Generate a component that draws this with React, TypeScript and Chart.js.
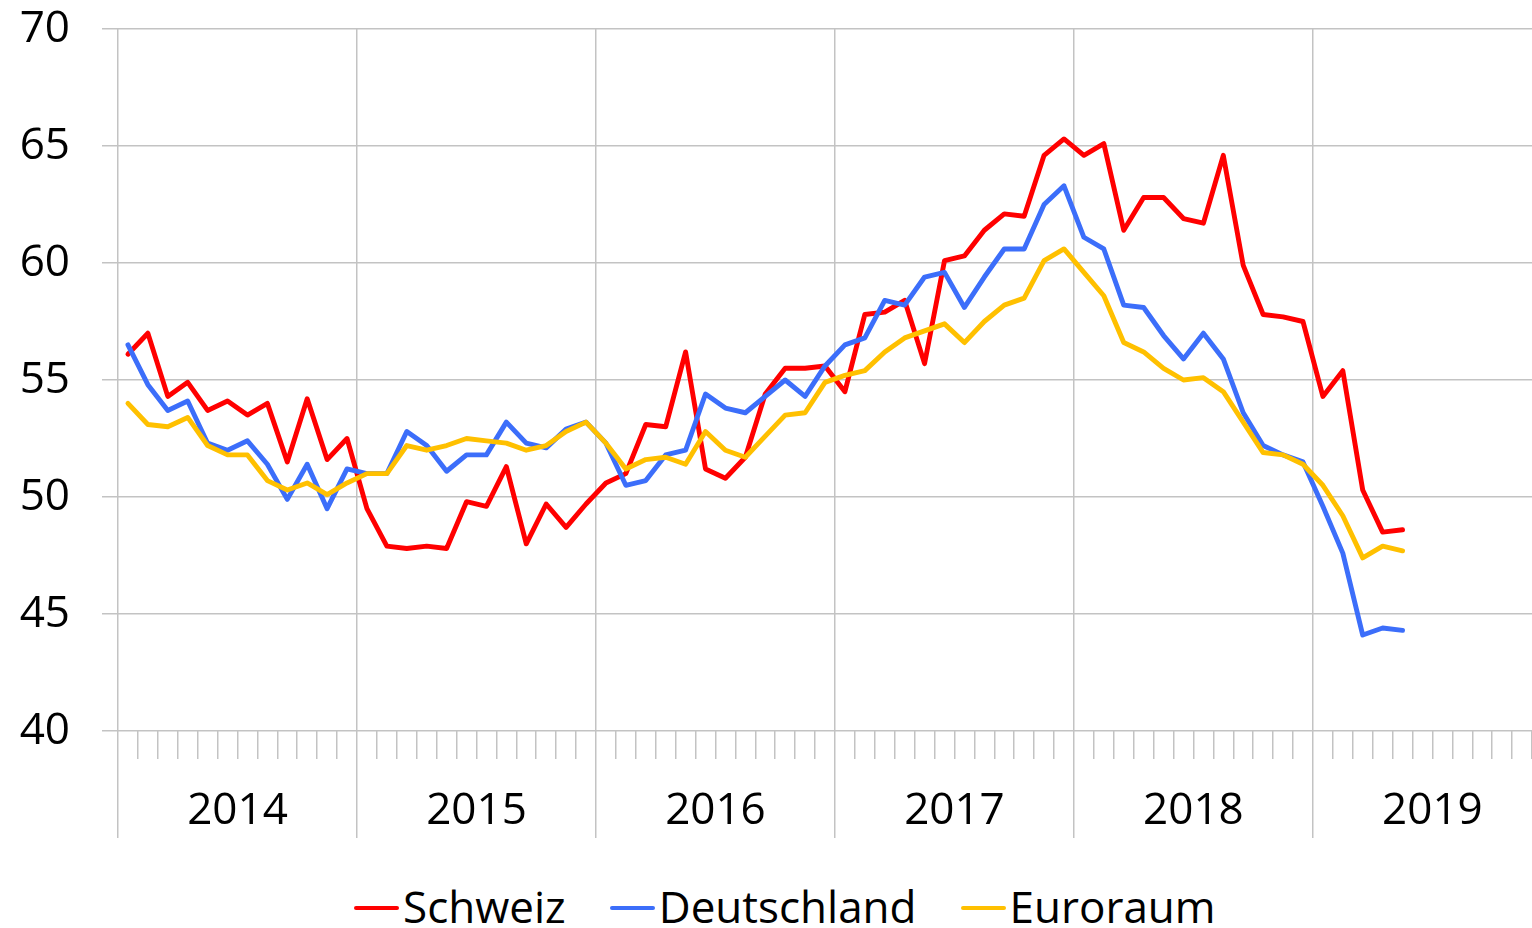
import React, { useEffect, useRef } from 'react';
import { Chart, registerables } from 'chart.js';

Chart.register(...registerables);

const FONT = "'Open Sans', sans-serif";
const GRID = '#c3c3c3';

const years = ['2014', '2015', '2016', '2017', '2018', '2019'];
const monthNames = ['01', '02', '03', '04', '05', '06', '07', '08', '09', '10', '11', '12'];
// axis runs Jan 2014 .. Nov 2019 (right edge of the picture)
const months: string[] = years.flatMap((y) => monthNames.map((m) => `${y}-${m}`)).slice(0, 71);

const seriesNames = ['Schweiz', 'Deutschland', 'Euroraum'];
const seriesColors = ['#FF0000', '#3C6EFA', '#FFC000'];

const schweiz = [
  56.1, 57.0, 54.3, 54.9, 53.7, 54.1, 53.5, 54.0, 51.5, 54.2, 51.6, 52.5,
  49.5, 47.9, 47.8, 47.9, 47.8, 49.8, 49.6, 51.3, 48.0, 49.7, 48.7, 49.7,
  50.6, 51.0, 53.1, 53.0, 56.2, 51.2, 50.8, 51.7, 54.4, 55.5, 55.5, 55.6,
  54.5, 57.8, 57.9, 58.4, 55.7, 60.1, 60.3, 61.4, 62.1, 62.0, 64.6, 65.3,
  64.6, 65.1, 61.4, 62.8, 62.8, 61.9, 61.7, 64.6, 59.9, 57.8, 57.7, 57.5,
  54.3, 55.4, 50.3, 48.5, 48.6,
];

const deutschland = [
  56.5, 54.8, 53.7, 54.1, 52.3, 52.0, 52.4, 51.4, 49.9, 51.4, 49.5, 51.2,
  51.0, 51.0, 52.8, 52.2, 51.1, 51.8, 51.8, 53.2, 52.3, 52.1, 52.9, 53.2,
  52.3, 50.5, 50.7, 51.8, 52.0, 54.4, 53.8, 53.6, 54.3, 55.0, 54.3, 55.6,
  56.5, 56.8, 58.4, 58.2, 59.4, 59.6, 58.1, 59.4, 60.6, 60.6, 62.5, 63.3,
  61.1, 60.6, 58.2, 58.1, 56.9, 55.9, 57.0, 55.9, 53.6, 52.2, 51.8, 51.5,
  49.6, 47.6, 44.1, 44.4, 44.3,
];

const euroraum = [
  54.0, 53.1, 53.0, 53.4, 52.2, 51.8, 51.8, 50.7, 50.3, 50.6, 50.1, 50.6,
  51.0, 51.0, 52.2, 52.0, 52.2, 52.5, 52.4, 52.3, 52.0, 52.2, 52.8, 53.2,
  52.3, 51.2, 51.6, 51.7, 51.4, 52.8, 52.0, 51.7, 52.6, 53.5, 53.6, 54.9,
  55.2, 55.4, 56.2, 56.8, 57.1, 57.4, 56.6, 57.5, 58.2, 58.5, 60.1, 60.6,
  59.6, 58.6, 56.6, 56.2, 55.5, 55.0, 55.1, 54.5, 53.2, 51.9, 51.8, 51.4,
  50.5, 49.2, 47.4, 47.9, 47.7,
];

const seriesValues = [schweiz, deutschland, euroraum];
const drawOrder = [3, 2, 1];

const yMin = 40;
const yMax = 70;
const yStep = 5;

export default function App() {
  const canvasRef = useRef<HTMLCanvasElement | null>(null);

  useEffect(() => {
    const canvas = canvasRef.current;
    if (!canvas) return;
    const chart = new Chart(canvas, {
      type: 'line',
      data: {
        labels: months,
        datasets: seriesNames.map((name, i) => ({
          label: name,
          data: seriesValues[i],
          borderColor: seriesColors[i],
          backgroundColor: seriesColors[i],
          borderWidth: 4.9,
          pointRadius: 0,
          tension: 0,
          fill: false,
          borderJoinStyle: 'round' as const,
          borderCapStyle: 'round' as const,
          order: drawOrder[i],
          xAxisID: 'x',
          yAxisID: 'y',
        })),
      },
      options: {
        responsive: false,
        animation: false,
        events: [],
        layout: { padding: 0 },
        font: { family: FONT },
        plugins: {
          legend: { display: false },
          tooltip: { enabled: false },
          title: { display: false },
        },
        scales: {
          x: {
            type: 'category',
            position: 'bottom',
            weight: 0,
            offset: true,
            grid: {
              offset: true,
              drawOnChartArea: false,
              color: GRID,
              lineWidth: 1.5,
              tickLength: 28,
            },
            border: { display: false },
            ticks: { display: false },
            afterFit: (s: any) => {
              s.height = 28;
            },
          },
          xYear: {
            type: 'linear',
            position: 'bottom',
            weight: 1,
            min: -0.5,
            max: months.length - 0.5,
            grid: {
              offset: true,
              drawOnChartArea: true,
              color: GRID,
              lineWidth: 1.5,
              tickLength: 79,
            },
            border: { display: false },
            afterBuildTicks: (s: any) => {
              s.ticks = years.map((_, i) => ({ value: i * 12 + 5.5 }));
            },
            ticks: {
              autoSkip: false,
              maxRotation: 0,
              padding: -53,
              color: '#000',
              font: { family: FONT, size: 44 },
              callback: (v: any) => years[Math.floor(Number(v) / 12)],
            },
            afterFit: (s: any) => {
              s.height = 79;
              s.paddingLeft = 0;
              s.paddingRight = 0;
            },
          },
          y: {
            type: 'linear',
            min: yMin,
            max: yMax,
            grid: { color: GRID, lineWidth: 1.5, tickLength: 16 },
            border: { display: false },
            ticks: {
              stepSize: yStep,
              padding: 32,
              color: '#000',
              font: { family: FONT, size: 44 },
            },
            afterFit: (s: any) => {
              s.width = 118;
              s.paddingTop = 29;
              s.paddingBottom = 0;
            },
          },
        },
      },
    });
    return () => chart.destroy();
  }, []);

  return (
    <>
      <canvas
        ref={canvasRef}
        width={1532}
        height={838}
        style={{ position: 'absolute', left: 0, top: 0, width: 1532, height: 838 }}
      />
      <div
        style={{
          position: 'absolute',
          left: 354,
          top: 880,
          display: 'flex',
          alignItems: 'center',
          fontFamily: FONT,
          fontSize: 44,
          lineHeight: '52px',
          color: '#000',
          whiteSpace: 'nowrap',
        }}
      >
        {seriesNames.map((name, i) => (
          <div
            key={name}
            style={{ display: 'flex', alignItems: 'center', marginRight: i < seriesNames.length - 1 ? 44 : 0 }}
          >
            <span
              style={{
                display: 'inline-block',
                width: 45,
                height: 4.5,
                borderRadius: 2.5,
                background: seriesColors[i],
                marginRight: 4,
                position: 'relative',
                top: 2,
              }}
            />
            <span>{name}</span>
          </div>
        ))}
      </div>
    </>
  );
}
